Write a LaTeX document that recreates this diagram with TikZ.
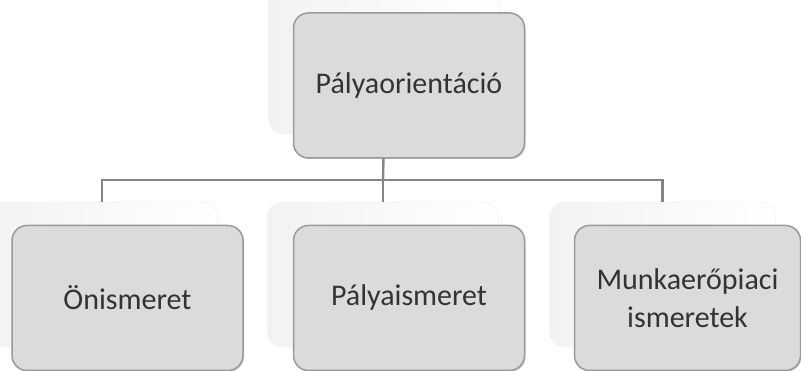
\documentclass[tikz,border=0pt]{standalone}
\usepackage{fontspec}
\setmainfont{Carlito}
\usetikzlibrary{positioning,shadows}
\tikzset{
	ghost/.style={rounded corners=15pt, minimum width=231pt, minimum height=145pt,
		left color=black!5, right color=white, draw=black!4, line width=0.8pt},
	box/.style={rounded corners=15pt, minimum width=231pt, minimum height=145pt,
		fill=black!14, draw=black!40, line width=1.5pt, text=black!80,
		align=center, font=\fontsize{30}{38}\selectfont,
		drop shadow={shadow xshift=1.2pt, shadow yshift=-1.2pt, opacity=0.35}},
	link/.style={draw=black!48, line width=2.4pt}
}
\begin{document}
\begin{tikzpicture}[x=1pt,y=1pt]
	\useasboundingbox (0,0) rectangle (801,371);
	%Background frames
	\node [ghost] (orientg) at (384,309.5) {};
	\node [ghost] (selfg) at (102,96.5) {};
	\node [ghost] (careerg) at (383,96.5) {};
	\node [ghost, minimum width=226pt] (labourg) at (662.5,96.5) {};
	%Connectors
	\coordinate (bar) at (383,191);
	\draw [link] (orientg.south) -- (bar);
	\draw [link] (selfg.north) |- (bar) -| (labourg.north);
	\draw [link] (bar) -- (careerg.north);
	%Boxes in front
	\node [box] (orient) at (409,285.5) {Pályaorientáció};
	\node [box] (self) at (127.5,73) {Önismeret};
	\node [box] (career) at (409,73) {Pályaismeret};
	\node [box, minimum width=226pt] (labour) at (687.5,73) {Munkaerőpiaci\\ismeretek};
\end{tikzpicture}
\end{document}
